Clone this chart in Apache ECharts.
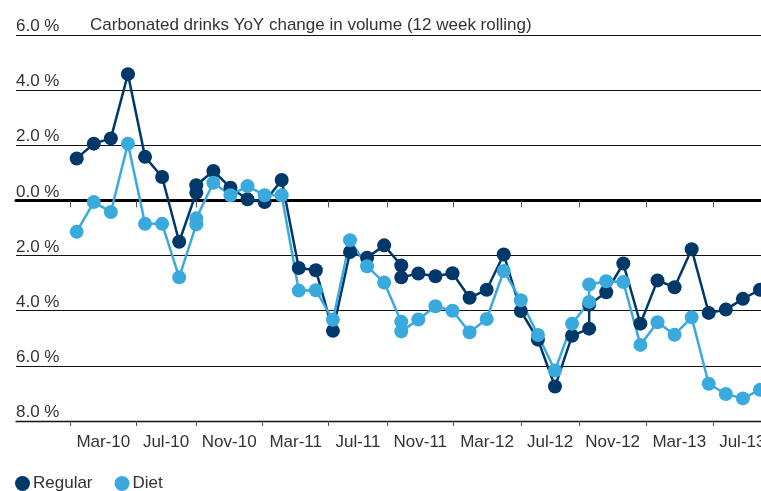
<!DOCTYPE html>
<html><head><meta charset="utf-8">
<script src="https://cdn.jsdelivr.net/npm/echarts@6/dist/echarts.min.js"></script>
<style>html,body{margin:0;padding:0;background:#fff}#c{width:761px;height:491px}</style>
</head><body><div id="c"></div>
<script>
const chartTitle = 'Carbonated drinks YoY change in volume (12 week rolling)';
const seriesNames = ['Regular', 'Diet'];
// x slot of each observation (two observations share a slot three times)
const slot = [0,1,2,3,4,5,6,7,7,8,9,10,11,12,13,14,15,16,17,18,19,19,20,21,22,23,24,25,26,27,28,29,30,30,31,32,33,34,35,36,37,38,39,40];
const regular = [1.52,2.06,2.25,4.58,1.58,0.85,-1.5,0.28,0.55,1.07,0.46,0.04,-0.06,0.74,-2.45,-2.53,-4.73,-1.87,-2.08,-1.63,-2.36,-2.79,-2.65,-2.75,-2.64,-3.53,-3.24,-1.96,-4.01,-5.05,-6.75,-4.91,-4.65,-3.78,-3.33,-2.29,-4.47,-2.9,-3.15,-1.77,-4.08,-3.96,-3.57,-3.24];
const diet = [-1.14,-0.06,-0.42,2.06,-0.85,-0.85,-2.79,-0.87,-0.65,0.64,0.19,0.52,0.19,0.19,-3.27,-3.26,-4.33,-1.44,-2.39,-2.98,-4.4,-4.75,-4.32,-3.84,-4.0,-4.78,-4.3,-2.56,-3.62,-4.88,-6.17,-4.47,-3.68,-3.05,-2.93,-2.96,-5.24,-4.42,-4.87,-4.24,-6.65,-7.02,-7.18,-6.87];
// month boundaries (Jan/May/Sep) expressed in slot units
const tickSlots = [-0.375,3.49,6.97,10.89,14.75,18.18,22.05,26.0,29.43,33.32,37.24,40.69];
const monthLabels = ['Mar-10','Jul-10','Nov-10','Mar-11','Jul-11','Nov-11','Mar-12','Jul-12','Nov-12','Mar-13','Jul-13'];
const yMin = -8, yMax = 6, yStep = 2;
const xMin = -3.554, xMax = 40.06;

const labelSlots = monthLabels.map((_, i) => (tickSlots[i] + tickSlots[i + 1]) / 2);
const labelMap = {};
labelSlots.forEach((v, i) => { labelMap[v.toFixed(4)] = monthLabels[i]; });

const FONT = 'Liberation Sans';
const TXT = '#333';
const chart = echarts.init(document.getElementById('c'), null, {renderer: 'canvas'});
chart.setOption({
  animation: false,
  color: ['#00386a', '#3aaade'],
  title: {text: chartTitle, left: 90, top: 17, padding: 0,
    textStyle: {fontFamily: FONT, fontSize: 17, fontWeight: 'normal', color: TXT}},
  legend: {left: 15, top: 475, padding: 0, icon: 'circle', itemWidth: 15, itemHeight: 15, itemGap: 22,
    textStyle: {fontFamily: FONT, fontSize: 17, color: TXT, padding: [0, 0, 0, -2]},
    data: seriesNames},
  grid: {left: 16, right: 0, top: 35, bottom: 70, containLabel: false, outerBoundsMode: 'none'},
  xAxis: [{
    type: 'value', min: xMin, max: xMax, position: 'bottom',
    axisLine: {onZero: false, lineStyle: {color: '#111', width: 1.3}},
    axisTick: {show: true, customValues: tickSlots, length: 5, lineStyle: {color: '#555', width: 1}},
    axisLabel: {customValues: labelSlots, margin: 13, fontFamily: FONT, fontSize: 17, color: TXT,
      formatter: v => labelMap[v.toFixed(4)] || ''},
    splitLine: {show: false}
  }, {
    type: 'value', min: xMin, max: xMax, position: 'top',
    axisLine: {onZero: true, lineStyle: {color: '#000', width: 3}},
    axisTick: {show: true, inside: true, customValues: tickSlots, length: 7, lineStyle: {color: '#555', width: 1}},
    axisLabel: {show: false},
    splitLine: {show: false}
  }],
  yAxis: {
    type: 'value', min: yMin, max: yMax, interval: yStep,
    axisLine: {show: false, onZero: false}, axisTick: {show: false},
    splitLine: {show: true, lineStyle: {color: '#111', width: 1.2}},
    axisLabel: {inside: true, margin: 0, align: 'left', verticalAlign: 'bottom', showMaxLabel: true, showMinLabel: true,
      fontFamily: FONT, fontSize: 17, color: TXT,
      formatter: v => Math.abs(v).toFixed(1) + ' %'}
  },
  series: [regular, diet].map((vals, k) => ({
    name: seriesNames[k], type: 'line', xAxisIndex: 0,
    data: vals.map((v, i) => [slot[i], v]),
    symbol: 'circle', symbolSize: 14, showAllSymbol: true,
    lineStyle: {width: 2.5}, clip: false
  }))
});
</script></body></html>
